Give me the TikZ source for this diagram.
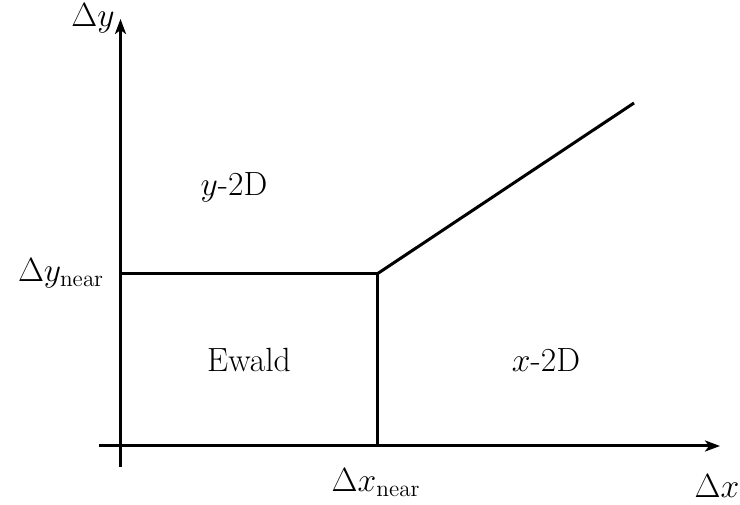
\documentclass[tikz,border=0pt]{standalone}
\usetikzlibrary{arrows.meta}
\newcommand{\biglbl}[1]{\scalebox{1.62}{\huge #1}}
\begin{document}
\begin{tikzpicture}[x=1pt,y=-1pt,
  axis/.style={line width=3pt,-{Stealth[length=15pt,width=11pt,inset=4pt]}},
  bound/.style={line width=3pt},
  lbl/.style={inner sep=0pt}]
\useasboundingbox (0,0) rectangle (740,505);
\coordinate (xs) at (99,446);
\coordinate (xe) at (720,446);
\coordinate (ys) at (120.5,467);
\coordinate (ye) at (120.5,19);
\coordinate (yl) at (120.5,274);
\coordinate (c) at (377,274);
\coordinate (cb) at (377,446);
\coordinate (d) at (634,103);
\draw[axis] (xs) -- (xe);
\draw[axis] (ys) -- (ye);
\draw[bound] (yl) -- (c) -- (cb);
\draw[bound] (c) -- (d);
\node[lbl] (ly) at (93,18) {\biglbl{$\Delta y$}};
\node[lbl] (lx) at (717,486) {\biglbl{$\Delta x$}};
\node[lbl] (lyn) at (61,273) {\biglbl{$\Delta y_{\mathrm{near}}$}};
\node[lbl] (lxn) at (376,483) {\biglbl{$\Delta x_{\mathrm{near}}$}};
\node[lbl] (y2d) at (234,187) {\biglbl{$y$-2D}};
\node[lbl] (x2d) at (546,360) {\biglbl{$x$-2D}};
\node[lbl] (ew) at (249,360) {\biglbl{Ewald}};
\end{tikzpicture}
\end{document}
